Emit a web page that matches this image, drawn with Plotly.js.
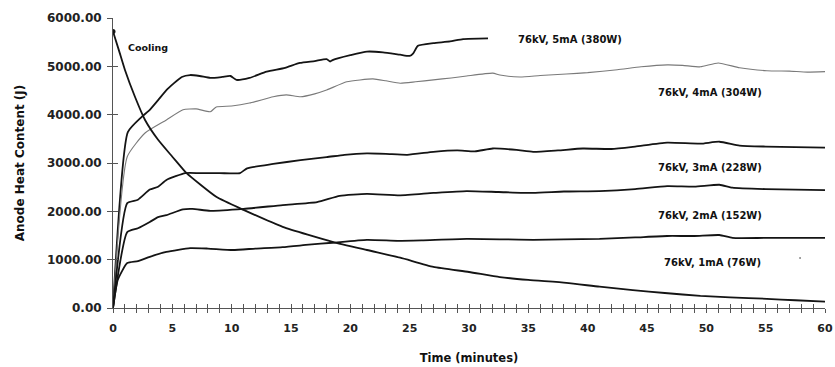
<!DOCTYPE html>
<html>
<head>
<meta charset="utf-8">
<script src="https://cdn.plot.ly/plotly-3.0.1.min.js"></script>
<style>html,body{margin:0;padding:0;background:#fff;}#chart{width:835px;height:367px;}</style>
</head>
<body>
<div id="chart"></div>
<script>
// ---- data ----
const t5mA = [0,1.25,2.4,3.1,3.8,4.5,5.8,6.5,7.3,8.2,9.2,9.9,10.4,11.5,12.95,14.5,15.75,17,18.0,18.3,18.55,20,21.4,22.75,24.2,25.0,25.3,25.7,27.0,28.4,29.5,31.6];
const v5mA = [0,3640,3950,4100,4300,4510,4780,4820,4800,4760,4780,4800,4720,4760,4890,4970,5070,5110,5150,5100,5135,5230,5305,5290,5240,5215,5270,5425,5480,5515,5565,5580];

const t4mA = [0,1.2,2.7,4.5,5.9,7,8.2,8.7,10,11.5,13.5,14.6,15.8,17,18,19.7,21.9,23,24.2,25.5,27,28.5,29.8,32,32.6,34.3,36,38.2,40,42.5,44.5,46.7,48,49.5,51,52.8,55.1,57,58.5,60];
const v4mA = [0,3130,3620,3890,4100,4120,4060,4160,4180,4240,4370,4410,4370,4430,4510,4680,4740,4700,4650,4680,4720,4760,4800,4860,4820,4780,4810,4840,4870,4930,4990,5030,5020,4990,5070,4970,4910,4900,4880,4890];

const t3mA = [0,1.2,2.1,3.1,3.8,4.5,6.1,7.3,9,10.7,11.3,13.5,15.8,18,19.5,21.4,23,24.8,27,29,30.5,32,34,35.4,37.5,39.6,42,44,46.7,49.5,51.1,52.8,55,57.5,60];
const v3mA = [0,2170,2240,2450,2510,2650,2790,2790,2790,2790,2890,2980,3060,3120,3170,3200,3190,3170,3230,3260,3240,3300,3270,3230,3260,3300,3290,3340,3420,3400,3440,3360,3340,3330,3320];

const t2mA = [0,1.2,2.1,3.1,3.8,4.5,5.9,6.7,8.2,11,14.3,17.2,19.1,21.4,24.2,27,29.8,32.5,35.4,38,41,44,46.7,49,51.1,52.2,55,60];
const v2mA = [0,1570,1650,1780,1880,1920,2040,2050,2010,2050,2130,2190,2320,2360,2330,2380,2420,2400,2380,2410,2420,2460,2520,2510,2550,2490,2460,2440];

const t1mA = [0,0.4,1.2,2.1,3.1,4.5,6.5,8,10.1,12,14.3,16.5,18.5,21.4,24,26,29.8,33,35.4,38,41,44,46.7,49,51.1,52.2,55,60];
const v1mA = [0,580,930,970,1060,1160,1240,1230,1200,1230,1260,1310,1350,1410,1390,1400,1430,1420,1410,1420,1430,1460,1490,1490,1510,1450,1450,1450];

const tCool = [0,0.5,1,1.85,2.7,3.8,5,5.8,6.2,8.7,11,14.3,18.5,21.4,24.2,27,30,32.6,35,38.2,41,43.8,46.5,49.5,52,55.1,57.5,60];
const vCool = [5720,5330,4930,4370,3890,3480,3130,2900,2790,2300,2030,1680,1370,1200,1040,850,745,640,580,520,440,370,310,250,220,190,160,130];

const seriesLabels = ['76kV, 5mA (380W)','76kV, 4mA (304W)','76kV, 3mA (228W)','76kV, 2mA (152W)','76kV, 1mA (76W)','Cooling'];
const labelX = [34.0,45.75,45.75,45.8,46.25,1.1];
const labelY = [5550,4450,2900,1905,950,5400];

const strayT = [57.9];
const strayV = [1035];

const xTickVals = [0,5,10,15,20,25,30,35,40,45,50,55,60];
const xTickText = ['0','5','10','15','20','25','30','35','40','45','50','55','60'];
const yTickVals = [0,1000,2000,3000,4000,5000,6000];
const yTickText = ['0.00','1000.00','2000.00','3000.00','4000.00','5000.00','6000.00'];

const xTitle = 'Time (minutes)';
const yTitle = 'Anode Heat Content (J)';

// ---- styling ----
const FONT = 'DejaVu Sans, Verdana, Arial, sans-serif';
const dark = {color:'#141414', width:1.8, shape:'spline', smoothing:0.5};
const traces = [
  {x:t5mA, y:v5mA, mode:'lines', line:dark},
  {x:t4mA, y:v4mA, mode:'lines', line:{color:'#7a7a7a', width:1.1, shape:'spline', smoothing:0.5}},
  {x:t3mA, y:v3mA, mode:'lines', line:dark},
  {x:t2mA, y:v2mA, mode:'lines', line:dark},
  {x:t1mA, y:v1mA, mode:'lines', line:dark},
  {x:tCool, y:vCool, mode:'lines', line:dark},
  {x:[tCool[0]], y:[vCool[0]], mode:'markers', marker:{color:'#141414', size:5}},
  {x:strayT, y:strayV, mode:'markers', marker:{color:'#888', size:2}}
];

const annotations = seriesLabels.map((s,i)=>({
  x:labelX[i], y:labelY[i], xref:'x', yref:'y', text:s, showarrow:false,
  xanchor:'left', yanchor:'middle',
  font:{family:FONT, size: i===5 ? 9.5 : 10, color:'#111', weight:'bold'}
}));

const axCol = '#555';
const layout = {
  width:835, height:367,
  margin:{l:113, r:10, t:18, b:59},
  paper_bgcolor:'#fff', plot_bgcolor:'#fff',
  showlegend:false,
  xaxis:{
    range:[0,60], showgrid:false, zeroline:false,
    showline:true, linecolor:axCol, linewidth:1,
    tickmode:'array', tickvals:xTickVals, ticktext:xTickText,
    ticks:'outside', ticklen:4, tickcolor:axCol, tickwidth:1,
    minor:{dtick:1, ticks:'outside', ticklen:4, tickcolor:axCol, tickwidth:1},
    ticklabelstandoff:6,
    tickfont:{family:FONT, size:11, color:'#222', weight:'bold'},
    title:{text:xTitle, standoff:19, font:{family:FONT, size:11.5, color:'#111', weight:'bold'}}
  },
  xaxis2:{
    range:[0,60], overlaying:'x', anchor:'y', side:'bottom', showgrid:false, zeroline:false,
    showline:false, showticklabels:false,
    ticks:'inside', ticklen:4, dtick:1, tick0:0, tickcolor:axCol, tickwidth:1
  },
  yaxis:{
    range:[0,6000], showgrid:false, zeroline:false,
    showline:true, linecolor:axCol, linewidth:1,
    tickmode:'array', tickvals:yTickVals, ticktext:yTickText,
    ticks:'outside', ticklen:5, tickcolor:axCol, tickwidth:1,
    ticklabelstandoff:3,
    tickfont:{family:FONT, size:12, color:'#222', weight:'bold'},
    title:{text:yTitle, standoff:19, font:{family:FONT, size:12, color:'#111', weight:'bold'}}
  },
  yaxis2:{
    range:[0,6000], overlaying:'y', anchor:'x', side:'left', showgrid:false, zeroline:false,
    showline:false, showticklabels:false,
    ticks:'inside', ticklen:5, dtick:1000, tick0:0, tickcolor:axCol, tickwidth:1
  },
  annotations:annotations
};

// invisible trace on the overlay axes so their crossing ticks render
traces.push({x:[0], y:[0], xaxis:'x2', yaxis:'y2', mode:'markers', marker:{opacity:0}, hoverinfo:'skip'});

Plotly.newPlot('chart', traces, layout, {displayModeBar:false, staticPlot:true});
</script>
</body>
</html>
